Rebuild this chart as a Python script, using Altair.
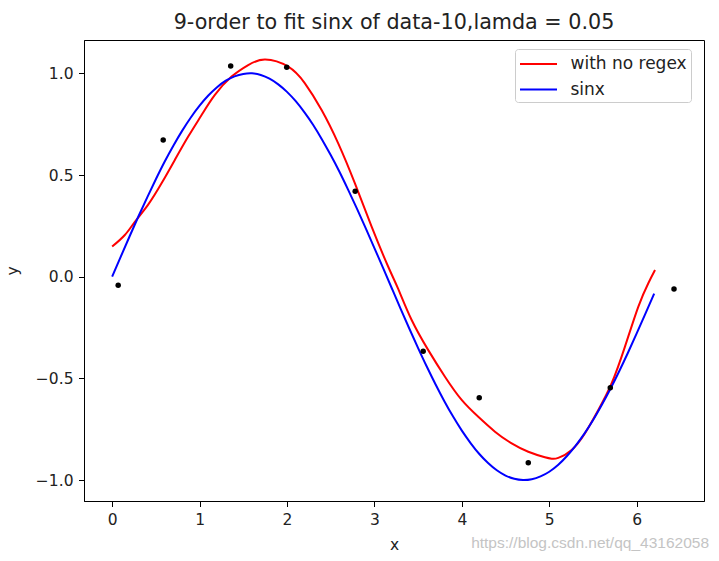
import altair as alt
import pandas as pd

pt_x = [0.069, 0.584, 1.356, 1.997, 2.780, 3.558, 4.199, 4.760, 5.698, 6.427]
pt_y = [-0.042, 0.672, 1.036, 1.030, 0.420, -0.367, -0.595, -0.915, -0.546, -0.061]

# Red fitted curve ("with no regex")
fit_x = [0.00, 0.145, 0.26, 0.41, 0.565, 0.717, 0.87, 1.023, 1.175, 1.366, 1.556, 1.75,
         2.014, 2.205, 2.396, 2.586, 2.777, 2.968, 3.158, 3.272, 3.426, 3.616,
         3.807, 3.998, 4.188, 4.379, 4.57, 4.76, 4.95, 5.03, 5.103, 5.256, 5.409, 5.561,
         5.714, 5.866, 6.018, 6.133, 6.21]
fit_y = [0.148, 0.205, 0.27, 0.353, 0.459, 0.574, 0.689, 0.795, 0.894, 0.984, 1.041, 1.068,
         1.033, 0.951, 0.82, 0.656, 0.459, 0.246, 0.049, -0.060, -0.213, -0.361,
         -0.492, -0.606, -0.689, -0.762, -0.82, -0.861, -0.888, -0.895, -0.891, -0.852, -0.77, -0.656,
         -0.524, -0.344, -0.148, -0.032, 0.033]

# Blue reference curve ("sinx")
sin_x = [round(i * 0.1, 1) for i in range(63)]
sin_y = [0.000, 0.100, 0.199, 0.296, 0.389, 0.479, 0.565, 0.644, 0.717, 0.783, 0.841,
         0.891, 0.932, 0.964, 0.985, 0.997, 1.000, 0.992, 0.974, 0.946, 0.909, 0.863,
         0.808, 0.746, 0.675, 0.598, 0.516, 0.427, 0.335, 0.239, 0.141, 0.042, -0.058,
         -0.158, -0.256, -0.351, -0.443, -0.530, -0.612, -0.688, -0.757, -0.818, -0.872,
         -0.916, -0.952, -0.978, -0.994, -1.000, -0.996, -0.982, -0.959, -0.926, -0.883,
         -0.832, -0.773, -0.706, -0.631, -0.551, -0.465, -0.374, -0.279, -0.182, -0.083]

series_names = ["with no regex", "sinx"]
series_colors = ["#ff0000", "#0000ff"]

lines = pd.concat([
    pd.DataFrame({"x": fit_x, "y": fit_y, "series": series_names[0], "order": 0}),
    pd.DataFrame({"x": sin_x, "y": sin_y, "series": series_names[1], "order": 1}),
])
points = pd.DataFrame({"x": pt_x, "y": pt_y})

FONT = "DejaVu Sans"
TICK_FS = 15.5

xscale = alt.Scale(domain=[-0.322, 6.77], nice=False, zero=False)
yscale = alt.Scale(domain=[-1.103, 1.164], nice=False, zero=False)

common_axis = dict(grid=False, domainColor="black", tickColor="black", tickSize=5.5,
                   labelFontSize=TICK_FS, labelColor="#222222", labelFont=FONT,
                   titleFont=FONT, titleFontSize=TICK_FS, titleFontWeight="normal",
                   titleColor="#222222", labelFlush=False)
xaxis = alt.Axis(values=[0, 1, 2, 3, 4, 5, 6], format="d", labelPadding=6,
                 titlePadding=9, **common_axis)
yaxis = alt.Axis(values=[-1.0, -0.5, 0.0, 0.5, 1.0], format=".1f", labelPadding=5.5,
                 titlePadding=15, **common_axis)

line_layer = alt.Chart(lines).mark_line(strokeWidth=2, interpolate="natural").encode(
    x=alt.X("x:Q", scale=xscale, axis=xaxis, title="x"),
    y=alt.Y("y:Q", scale=yscale, axis=yaxis, title="y"),
    color=alt.Color("series:N",
                    scale=alt.Scale(domain=series_names, range=series_colors),
                    sort=series_names,
                    legend=alt.Legend(title=None, orient="none", legendX=431, legendY=9,
                                      symbolType="M-1.85,0H1.85", symbolStrokeWidth=2,
                                      symbolSize=400, symbolOffset=8.5,
                                      labelFontSize=17, labelFont=FONT,
                                      labelColor="#222222", padding=4, rowPadding=6.6,
                                      strokeColor="#cccccc", fillColor="white",
                                      cornerRadius=3, labelOffset=21)),
    detail="series:N",
    order="order:Q",
)

point_layer = alt.Chart(points).mark_circle(color="black", size=30, opacity=1).encode(
    x=alt.X("x:Q", scale=xscale),
    y=alt.Y("y:Q", scale=yscale),
)

watermark = alt.Chart(pd.DataFrame({"t": ["https://blog.csdn.net/qq_43162058"]})).mark_text(
    align="right", baseline="middle", fontSize=15.5, font="Liberation Sans", color="#c4c4c4"
).encode(text="t:N", x=alt.value(625), y=alt.value(503))

chart = alt.layer(line_layer, point_layer, watermark).properties(
    width=620, height=461,
    title=alt.TitleParams("9-order to fit sinx of data-10,lamda = 0.05", fontSize=20.7,
                          font=FONT, fontWeight="normal", color="#222222", offset=6),
    autosize=alt.AutoSizeParams(type="none"),
    padding={"left": 84, "top": 40, "right": 15, "bottom": 60},
).configure_view(stroke="black", strokeWidth=1)

chart.save("out.html", embed_options={"renderer": "svg", "actions": False})
